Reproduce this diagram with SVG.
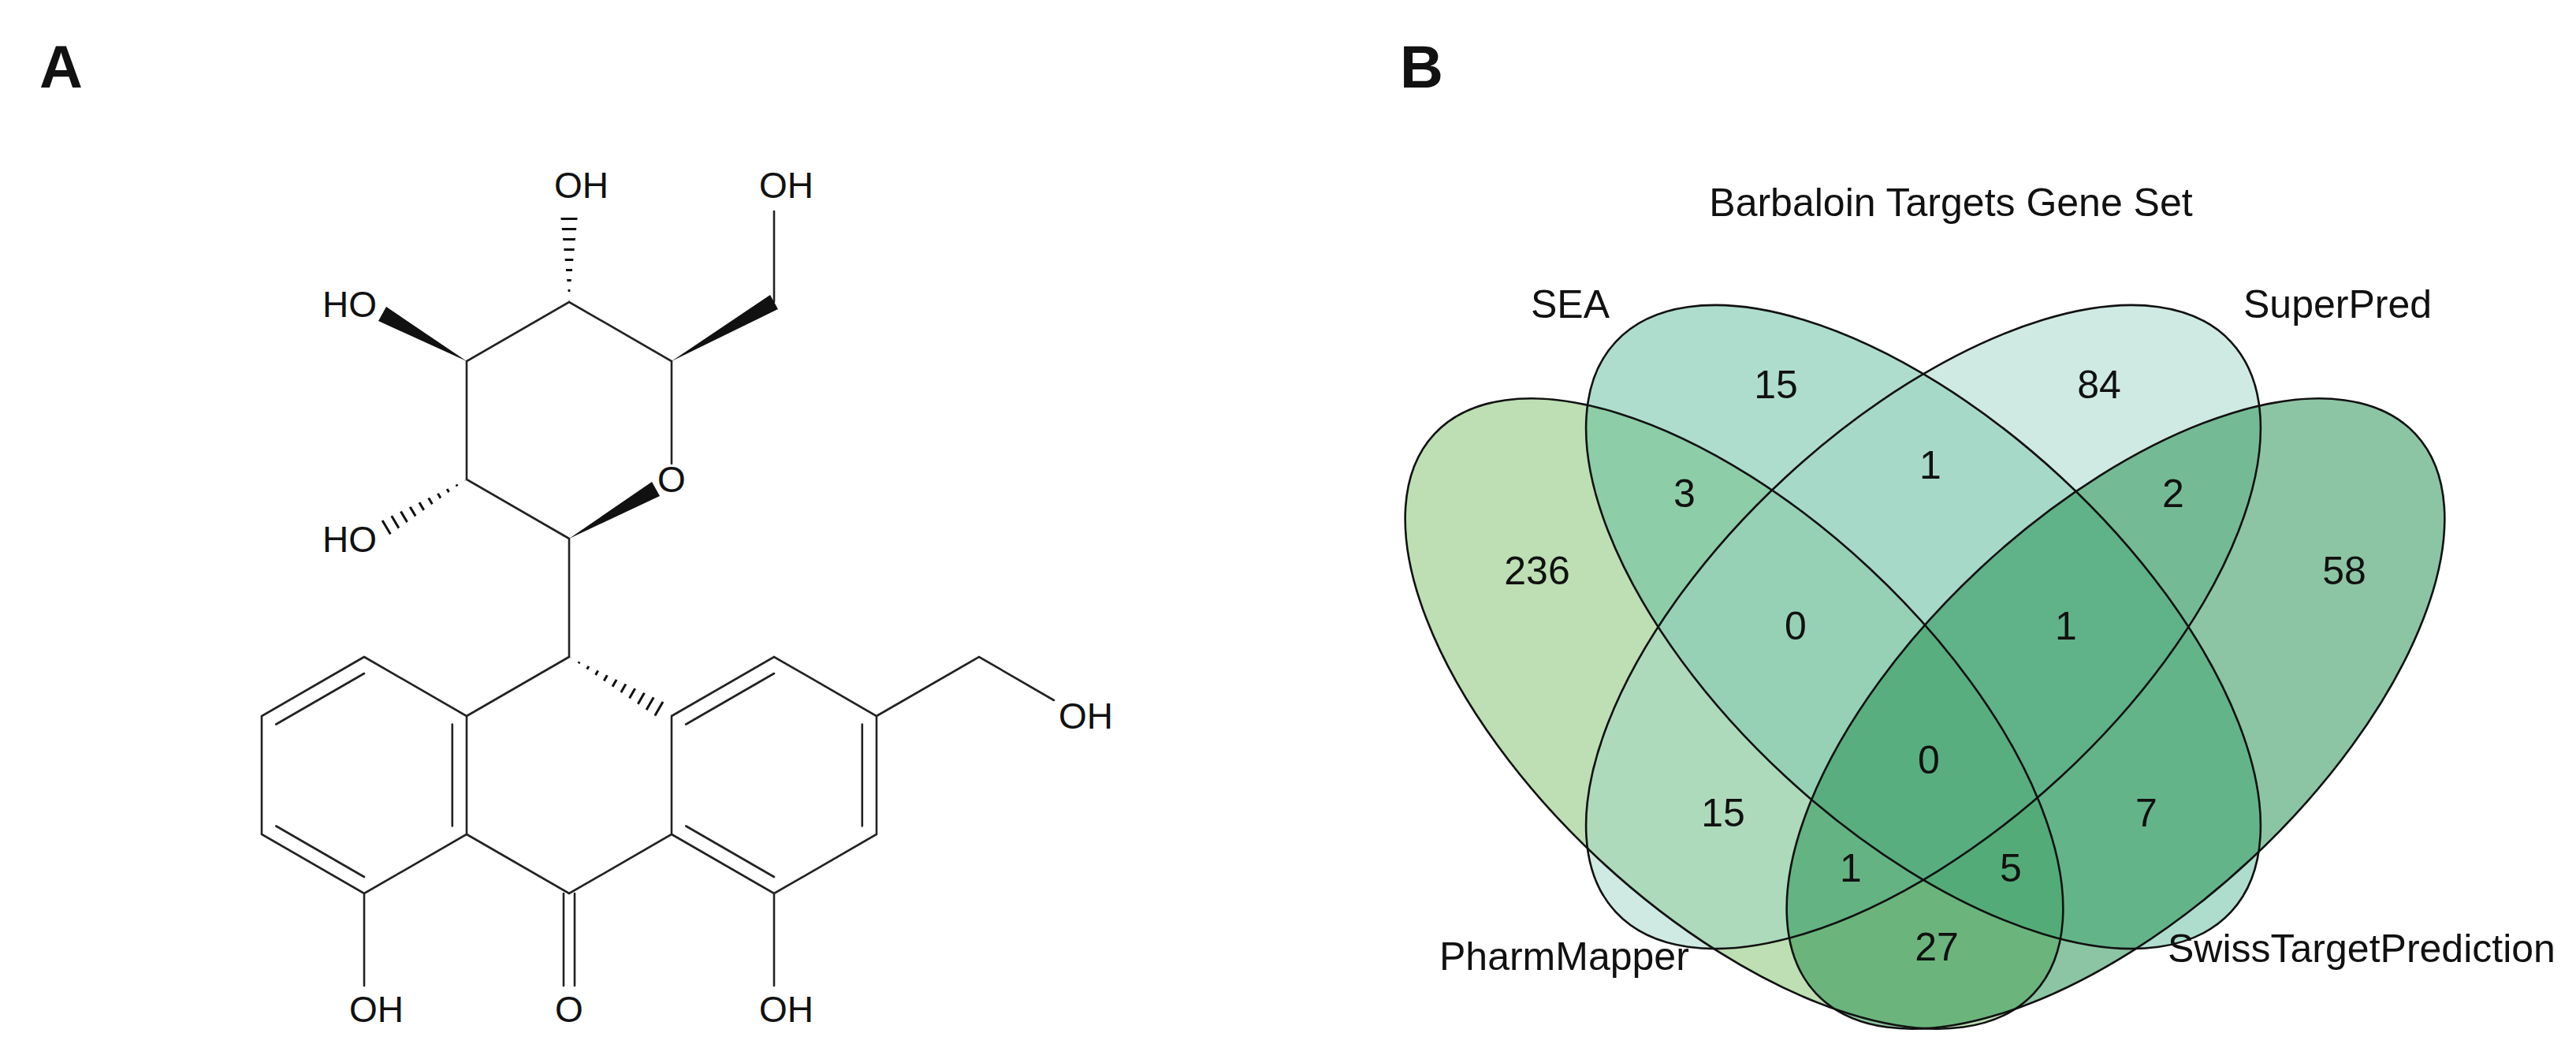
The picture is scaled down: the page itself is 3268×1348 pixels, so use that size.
<svg xmlns="http://www.w3.org/2000/svg" width="3268" height="1348" viewBox="0 0 3268 1348">
<style>
text{font-family:"Liberation Sans",Arial,sans-serif;fill:#111}
.pl{font-size:76px;font-weight:bold}
.at{font-size:46px}
.lb{font-size:50px}
.num{font-size:50px;text-anchor:middle}
.b{stroke:#222;stroke-width:2.6;fill:none;stroke-linecap:round}
.w{fill:#111}
.e{stroke:#111;stroke-width:2.6}
</style>
<defs>
<clipPath id="h1"><polygon points="722,833 839.5,913.5 850.5,894.5"/></clipPath>
<clipPath id="h2"><polygon points="722,383 711,272 733,272"/></clipPath>
<clipPath id="h3"><polygon points="592,608 493,679 483,661"/></clipPath>
</defs>
<rect width="3268" height="1348" fill="#fff"/>
<g id="panelA">
<text class="pl" x="50" y="111">A</text>
<g id="molecule">
<path class="b" d="M722,683 L592,608 L592,458 L722,383 L852,458 L852,588 M722,683 L722,833 M722,833 L592,908 M462,833 L332,908 L332,1058 L462,1133 L592,1058 L592,908 L462,833 M592,1058 L722,1133 L852,1058 L852,908 M852,908 L982,833 L1112,908 L1112,1058 L982,1133 L852,1058 M1112,908 L1242,833 L1337,888 M982,383 L982,268 M462,1133 L462,1250 M982,1133 L982,1250 M715,1133 L715,1250 M729,1133 L729,1250 M462,854 L350.2,918.5 M350.2,1047.5 L462,1112 M573.8,918.5 L573.8,1047.5 M870.2,918.5 L982,854 M1093.8,918.5 L1093.8,1047.5 M982,1112 L870.2,1047.5"/>
<polygon class="w" points="592,458 490,389 480,407"/>
<polygon class="w" points="852,458 987,392 977,374"/>
<polygon class="w" points="722,683 837,629 827,611"/>
<line x1="722" y1="833" x2="852" y2="908" stroke="#111" stroke-width="26" stroke-dasharray="3 10" clip-path="url(#h1)"/>
<line x1="722" y1="383" x2="722" y2="272" stroke="#111" stroke-width="26" stroke-dasharray="3 10" clip-path="url(#h2)"/>
<line x1="592" y1="608" x2="488" y2="670" stroke="#111" stroke-width="26" stroke-dasharray="3 10" clip-path="url(#h3)"/>
<text class="at" x="703" y="251">OH</text>
<text class="at" x="963" y="251">OH</text>
<text class="at" x="478" y="402" text-anchor="end">HO</text>
<text class="at" x="478" y="700" text-anchor="end">HO</text>
<text class="at" x="852" y="624" text-anchor="middle">O</text>
<text class="at" x="1343" y="924">OH</text>
<text class="at" x="443" y="1296">OH</text>
<text class="at" x="722" y="1296" text-anchor="middle">O</text>
<text class="at" x="963" y="1296">OH</text>
</g>
</g>
<g id="panelB">
<text class="pl" x="1776" y="111">B</text>
<text class="lb" x="2475" y="274" text-anchor="middle">Barbaloin Targets Gene Set</text>
<g id="sets" fill-opacity="0.5">
<ellipse id="PharmMapper" cx="2200" cy="905" rx="520" ry="252" transform="rotate(43 2200 905)" fill="#7BBF67"/>
<ellipse id="SEA" cx="2440" cy="795" rx="532" ry="258" transform="rotate(42.8 2440 795)" fill="#5DBB9B"/>
<ellipse id="SuperPred" cx="2440" cy="795" rx="532" ry="258" transform="rotate(-42.8 2440 795)" fill="#9FD5C5"/>
<ellipse id="Swiss" cx="2684" cy="905" rx="520" ry="252" transform="rotate(-43 2684 905)" fill="#198B47"/>
</g>
<g fill="none" class="e">
<ellipse cx="2200" cy="905" rx="520" ry="252" transform="rotate(43 2200 905)"/>
<ellipse cx="2440" cy="795" rx="532" ry="258" transform="rotate(42.8 2440 795)"/>
<ellipse cx="2440" cy="795" rx="532" ry="258" transform="rotate(-42.8 2440 795)"/>
<ellipse cx="2684" cy="905" rx="520" ry="252" transform="rotate(-43 2684 905)"/>
</g>
<text class="lb" x="1942" y="403">SEA</text>
<text class="lb" x="2846" y="403">SuperPred</text>
<text class="lb" x="1826" y="1230">PharmMapper</text>
<text class="lb" x="2750" y="1220">SwissTargetPrediction</text>
<g id="counts">
<text class="num" x="2253" y="505">15</text>
<text class="num" x="2663" y="505">84</text>
<text class="num" x="2449" y="607">1</text>
<text class="num" x="2137" y="643">3</text>
<text class="num" x="2757" y="643">2</text>
<text class="num" x="1950" y="741">236</text>
<text class="num" x="2974" y="741">58</text>
<text class="num" x="2278" y="811">0</text>
<text class="num" x="2621" y="811">1</text>
<text class="num" x="2447" y="981">0</text>
<text class="num" x="2186" y="1048">15</text>
<text class="num" x="2723" y="1048">7</text>
<text class="num" x="2348" y="1118">1</text>
<text class="num" x="2551" y="1118">5</text>
<text class="num" x="2457" y="1218">27</text>
</g>
</g>
</svg>
